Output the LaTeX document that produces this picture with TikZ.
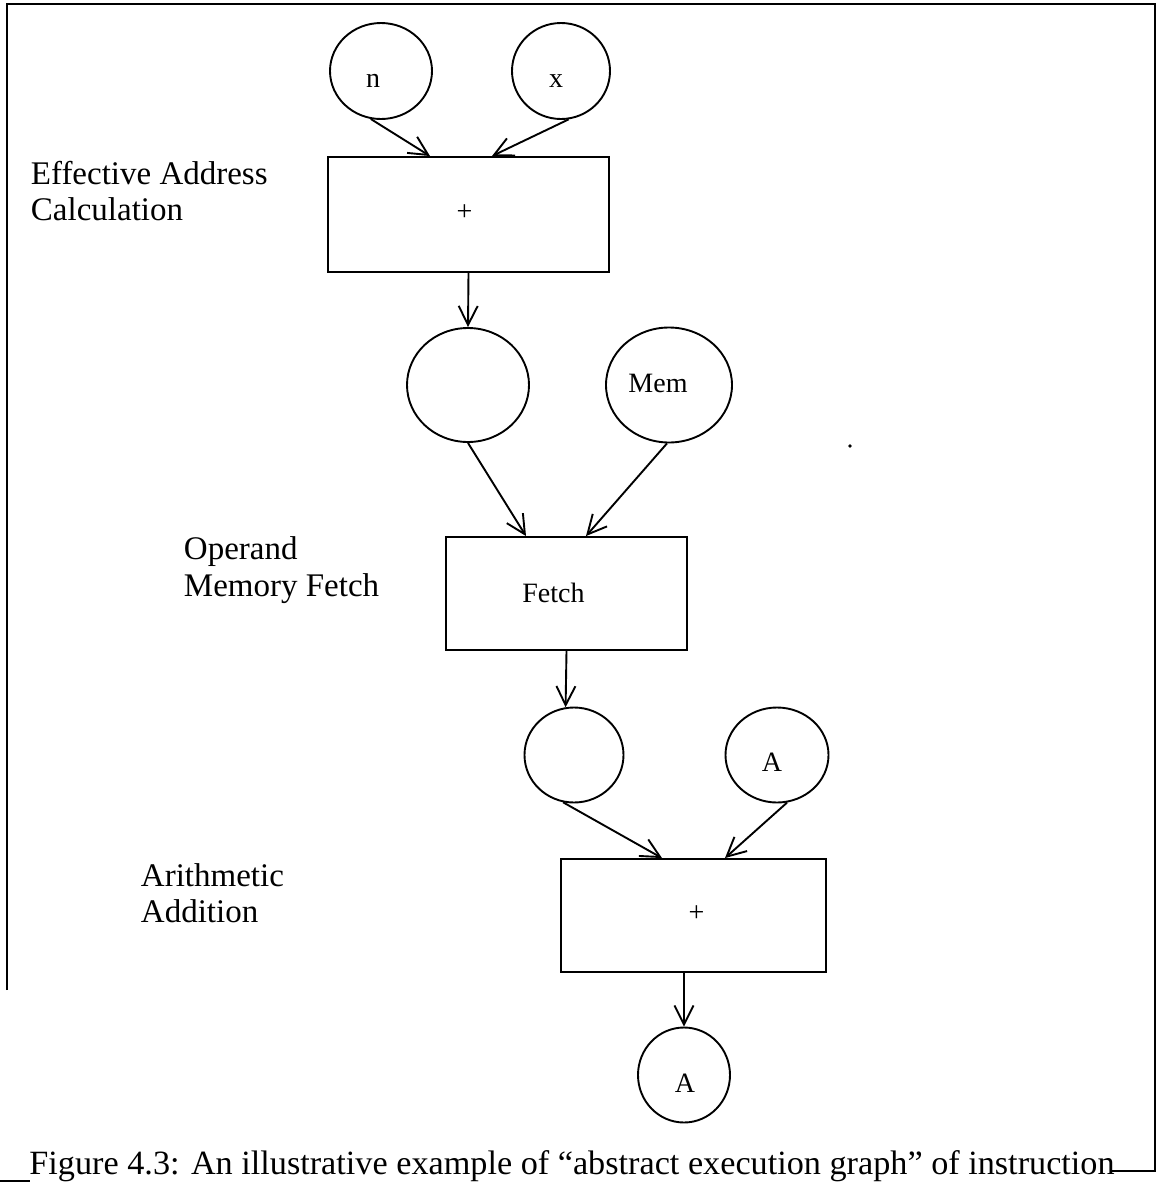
\documentclass[tikz,border=0pt]{standalone}
\usepackage{fontspec}
\setmainfont{Liberation Serif}
\usetikzlibrary{shapes.geometric,arrows.meta}
\begin{document}
\begin{tikzpicture}[x=1pt,y=-1pt,
  line width=1.9pt,
  val/.style={draw, ellipse, inner sep=0pt},
  op/.style={draw, rectangle, inner sep=0pt},
  tag/.style={font=\fontsize{28}{30}\selectfont, inner sep=0pt},
  stage/.style={anchor=west, align=left, inner sep=0pt,
                font=\fontsize{33}{36.5}\selectfont},
  flow/.style={-{Straight Barb[length=19pt,width=19pt]}},
]
\useasboundingbox (0,0) rectangle (1167,1184);

% frame round the figure
\draw[line width=1.5pt] (7,990) -- (7,4) -- (1155,4) -- (1155,1171) -- (1110,1171);
\draw[line width=1.5pt] (0,1181) -- (30,1181);

% stage names
\node[stage] (lea) at (30,191) {Effective Address\\Calculation};
\node[stage] (lfetch) at (183,570) {Operand\\Memory Fetch};
\node[stage] (lalu) at (140,893) {Arithmetic\\Addition};

% effective address calculation
\node[val, minimum width=102pt, minimum height=96pt,
      label={[tag,xshift=-8pt,yshift=-10pt]center:n}] (n) at (381,71) {};
\node[val, minimum width=98pt, minimum height=96pt,
      label={[tag,xshift=-5pt,yshift=-10pt]center:x}] (x) at (561,71) {};
\node[op, minimum width=281pt, minimum height=115pt,
      label={[tag,xshift=-4pt,yshift=2pt]center:+}] (add1) at (468.5,214.5) {};

% operand memory fetch
\node[val, minimum width=122pt, minimum height=114pt] (ea) at (468,385) {};
\node[val, minimum width=126pt, minimum height=115pt,
      label={[tag,xshift=-11pt,yshift=2pt]center:Mem}] (mem) at (669,385) {};
\node[op, minimum width=241pt, minimum height=113pt,
      label={[tag,xshift=-13pt,yshift=1pt]center:Fetch}] (fetch) at (566.5,593.5) {};

% arithmetic addition
\node[val, minimum width=99pt, minimum height=95pt] (ld) at (574,755) {};
\node[val, minimum width=103pt, minimum height=95pt,
      label={[tag,xshift=-5pt,yshift=-7pt]center:A}] (a) at (777,755) {};
\node[op, minimum width=265pt, minimum height=113pt,
      label={[tag,xshift=3pt,yshift=2pt]center:+}] (add2) at (693.5,915.5) {};
\node[val, minimum width=92pt, minimum height=95pt,
      label={[tag,xshift=1pt,yshift=-8pt]center:A}] (res) at (684,1075) {};

% data flow
\draw[flow] (n.-102) -- ([xshift=-38.5pt]add1.north);
\draw[flow] (x.-81.5) -- ([xshift=23.5pt]add1.north);
\draw[flow] (add1.south) -- (ea.north);
\draw[flow] (ea.-90) -- ([xshift=-40.5pt]fetch.north);
\draw[flow] (mem.-92) -- ([xshift=19.5pt]fetch.north);
\draw[flow] (fetch.south) -- (ld.100);
\draw[flow] (ld.-103) -- ([xshift=-31.5pt]add2.north);
\draw[flow] (a.-78) -- ([xshift=31.5pt]add2.north);
\draw[flow] (add2.south -| res.north) -- (res.north);

% stray mark
\fill (850,446) circle (1.8pt);

% caption
\node[anchor=base, inner sep=0pt, font=\fontsize{34}{38}\selectfont] (cap) at (572,1174)
  {\resizebox{1085pt}{\height}{Figure 4.3: An illustrative example of “abstract execution graph” of instruction}};
\end{tikzpicture}
\end{document}
